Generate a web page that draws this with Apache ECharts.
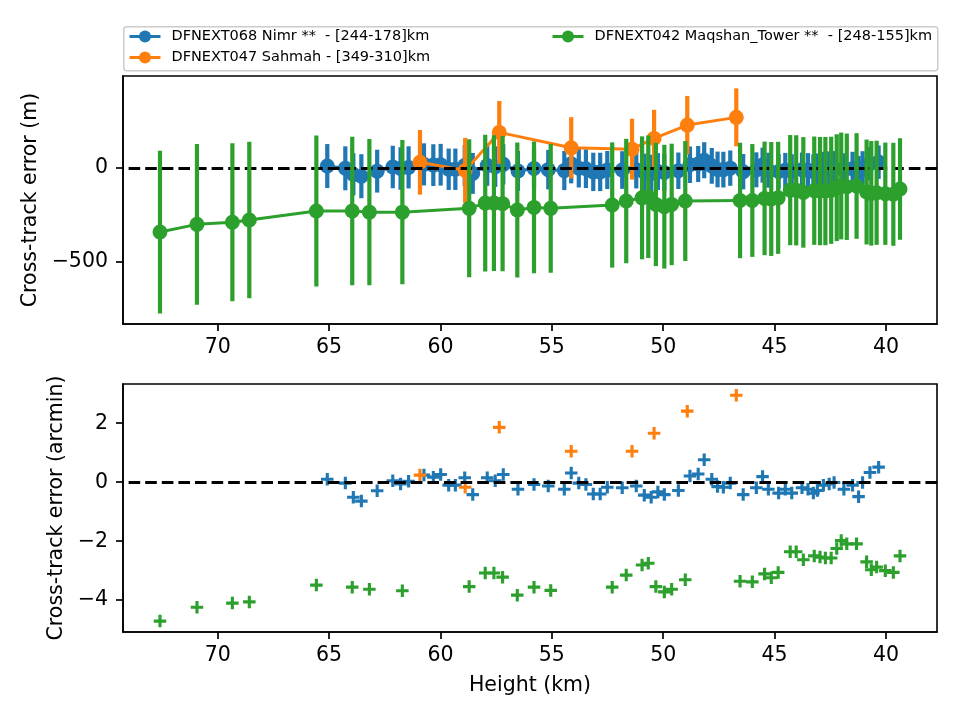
<!DOCTYPE html>
<html>
<head>
<meta charset="utf-8">
<script src="https://cdn.jsdelivr.net/npm/echarts@6/dist/echarts.min.js"></script>
<style>
  html, body { margin: 0; padding: 0; background: #fff; }
  #main { width: 960px; height: 720px; }
</style>
</head>
<body>
<div id="main"></div>
<script>
// series names
var nimrName = 'DFNEXT068 Nimr **  - [244-178]km';
var sahmahName = 'DFNEXT047 Sahmah - [349-310]km';
var maqName = 'DFNEXT042 Maqshan_Tower **  - [248-155]km';

// DFNEXT068 Nimr (blue)
var nimrHeight = [65.08, 64.27, 63.91, 63.55, 62.84, 62.14, 61.79, 61.43, 60.74, 60.32, 59.99, 59.63, 59.33, 58.91, 58.55,
    57.90, 57.54, 57.18, 56.52, 55.80, 55.16, 54.44, 54.13, 53.79, 53.47, 53.14, 52.83, 52.51, 51.84, 51.21, 50.85,
    50.54, 50.24, 49.95, 49.32, 48.80, 48.43, 48.16, 47.82, 47.56, 47.30, 46.99, 46.41, 45.82, 45.54, 45.28, 44.82,
    44.52, 44.23, 43.77, 43.50, 43.26, 43.08, 42.81, 42.55, 42.33, 41.89, 41.50, 41.23, 41.05, 40.72, 40.33];
var nimrErrM = [9, -3, -35, -45, -18, 4, -4, 2, 18, 14, 16, -8, -8, 12, -30,
    12, 6, 18, -17, -4, -10, -15, 21, -2, -5, -22, -22, -12, -12, -10, -24,
    -30, -20, -25, -16, 16, 20, 40, 10, -9, -10, -2, -21, -11, 14, -13, -20,
    -13, -20, -10, -13, -20, -15, -5, -3, -1, -13, -5, -26, -1, 22, 30];
var nimrSigma = [117, 117, 112, 117, 114, 113, 113, 112, 112, 111, 111, 110, 110, 109, 109,
    108, 108, 107, 106, 105, 105, 104, 104, 103, 103, 102, 102, 101, 100, 100, 99,
    99, 98, 98, 97, 97, 96, 96, 95, 95, 95, 94, 94, 93, 93, 93, 92,
    92, 92, 91, 91, 91, 91, 90, 90, 90, 90, 90, 89, 89, 89, 89];
var nimrErrArcmin = [0.10, -0.03, -0.51, -0.64, -0.29, 0.05, -0.06, 0.03, 0.24, 0.17, 0.26, -0.10, -0.10, 0.15, -0.42,
    0.15, 0.05, 0.26, -0.24, -0.08, -0.13, -0.24, 0.31, -0.03, -0.08, -0.40, -0.40, -0.17, -0.19, -0.13, -0.44,
    -0.51, -0.33, -0.42, -0.28, 0.21, 0.28, 0.76, 0.10, -0.15, -0.17, -0.03, -0.42, -0.19, 0.19, -0.24, -0.37,
    -0.24, -0.37, -0.19, -0.24, -0.37, -0.28, -0.10, -0.06, -0.01, -0.24, -0.10, -0.49, -0.01, 0.33, 0.51];

// DFNEXT047 Sahmah (orange)
var sahmahHeight = [60.92, 58.89, 57.36, 54.13, 51.40, 50.41, 48.92, 46.72];
var sahmahErrM = [29, -14, 188, 106, 99, 156, 227, 268];
var sahmahSigma = [172, 173, 167, 163, 162, 152, 155, 154];
var sahmahErrArcmin = [0.24, -0.17, 1.86, 1.05, 1.05, 1.66, 2.41, 2.95];

// DFNEXT042 Maqshan_Tower (green)
var maqHeight = [72.59, 70.93, 69.34, 68.58, 65.57, 63.96, 63.19, 61.71, 58.71, 57.99, 57.60, 57.21, 56.55, 55.80, 55.05,
    52.29, 51.66, 50.95, 50.67, 50.33, 49.95, 49.62, 49.01, 46.55, 46.00, 45.45, 45.15, 44.84, 44.30, 44.03,
    43.71, 43.22, 42.96, 42.72, 42.46, 42.21, 42.01, 41.76, 41.32, 40.87, 40.66, 40.42, 40.03, 39.67, 39.37];
var maqErrM = [-342, -301, -290, -278, -230, -230, -236, -236, -216, -188, -188, -191, -225, -211, -216,
    -198, -177, -160, -154, -195, -207, -195, -177, -174, -174, -163, -166, -160, -119, -120,
    -131, -122, -124, -124, -120, -106, -97, -101, -97, -129, -136, -133, -138, -141, -113];
var maqSigma = [433, 427, 420, 416, 402, 395, 389, 383, 367, 364, 361, 360, 359, 350, 343,
    333, 331, 327, 326, 328, 329, 323, 319, 307, 300, 302, 303, 298, 293, 293,
    294, 288, 288, 288, 285, 284, 284, 283, 281, 279, 278, 277, 272, 274, 270];
var maqErrArcmin = [-4.71, -4.24, -4.10, -4.06, -3.49, -3.56, -3.63, -3.68, -3.54, -3.08, -3.08, -3.22, -3.83, -3.56, -3.67,
    -3.56, -3.15, -2.81, -2.75, -3.54, -3.72, -3.63, -3.31, -3.36, -3.38, -3.11, -3.24, -3.06, -2.36, -2.36,
    -2.63, -2.50, -2.54, -2.57, -2.57, -2.25, -1.98, -2.09, -2.09, -2.70, -2.97, -2.88, -3.00, -3.06, -2.50];

// ticks
var xTicks = [70, 65, 60, 55, 50, 45, 40];
var topYTicks = [-500, 0];
var bottomYTicks = [-4, -2, 0, 2];

var colors = ['#1f77b4', '#ff7f0e', '#2ca02c'];
var FONT = 'DejaVu Sans';
var AXIS_FS = 20.5;
var plusPath = 'path://M3.75,0H6.25V3.75H10V6.25H6.25V10H3.75V6.25H0V3.75H3.75Z';

function minusFmt(v) {
    return v < 0 ? '\u2212' + Math.abs(v) : String(v);
}

function pairs(xs, ys) {
    return xs.map(function (x, i) { return [x, ys[i]]; });
}

function errData(xs, ys, es) {
    return xs.map(function (x, i) { return [x, ys[i] - es[i], ys[i] + es[i]]; });
}

function errSeries(name, xs, ys, es, color, z) {
    return {
        name: name,
        type: 'custom',
        xAxisIndex: 0,
        yAxisIndex: 0,
        z: z,
        silent: true,
        data: errData(xs, ys, es),
        renderItem: function (params, api) {
            var p1 = api.coord([api.value(0), api.value(1)]);
            var p2 = api.coord([api.value(0), api.value(2)]);
            return {
                type: 'line',
                shape: { x1: p1[0], y1: p1[1], x2: p2[0], y2: p2[1] },
                style: { stroke: color, lineWidth: 4.2 }
            };
        }
    };
}

function lineSeries(name, xs, ys, color, z) {
    return {
        name: name,
        type: 'line',
        xAxisIndex: 0,
        yAxisIndex: 0,
        z: z,
        data: pairs(xs, ys),
        symbol: 'circle',
        symbolSize: 15,
        showSymbol: true,
        showAllSymbol: true,
        lineStyle: { color: color, width: 3 },
        itemStyle: { color: color }
    };
}

function plusSeries(name, xs, ys, color, z) {
    return {
        name: name,
        type: 'scatter',
        xAxisIndex: 1,
        yAxisIndex: 1,
        z: z,
        data: pairs(xs, ys),
        symbol: plusPath,
        symbolSize: 12.5,
        itemStyle: { color: color, opacity: 1 }
    };
}

var zeroLine = {
    silent: true,
    symbol: 'none',
    label: { show: false },
    animation: false,
    lineStyle: { color: '#000', type: [11.6, 5], width: 3.1 },
    data: [{ yAxis: 0 }]
};

var axisLineCfg = { show: true, onZero: false, lineStyle: { color: '#000', width: 1.6 } };
var tickCfgBase = { show: true, inside: false, length: 7, lineStyle: { color: '#000', width: 1.7 } };

function xAxisCfg(gridIndex, withName) {
    var ax = {
        type: 'value',
        gridIndex: gridIndex,
        position: 'bottom',
        min: 37.71,
        max: 74.25,
        inverse: true,
        axisLine: axisLineCfg,
        axisTick: Object.assign({ customValues: xTicks }, tickCfgBase),
        axisLabel: { customValues: xTicks, formatter: minusFmt, color: '#000', fontSize: AXIS_FS, fontFamily: FONT, margin: 13 },
        splitLine: { show: false }
    };
    if (withName) {
        ax.name = 'Height (km)';
        ax.nameLocation = 'middle';
        ax.nameGap = 43;
        ax.nameTextStyle = { color: '#000', fontSize: AXIS_FS, fontFamily: FONT };
    }
    return ax;
}

function yAxisCfg(gridIndex, min, max, ticks, name, gap) {
    return {
        type: 'value',
        gridIndex: gridIndex,
        position: 'left',
        min: min,
        max: max,
        axisLine: axisLineCfg,
        axisTick: Object.assign({ customValues: ticks }, tickCfgBase),
        axisLabel: { customValues: ticks, formatter: minusFmt, color: '#000', fontSize: AXIS_FS, fontFamily: FONT, margin: 15 },
        splitLine: { show: false },
        name: name,
        nameLocation: 'middle',
        nameGap: gap,
        nameTextStyle: { color: '#000', fontSize: AXIS_FS, fontFamily: FONT }
    };
}

var chart = echarts.init(document.getElementById('main'), null, { renderer: 'canvas' });

var legendText = { color: '#000', fontSize: 14.5, fontFamily: FONT, padding: [0, 0, 0, 6] };

var series = [];
var zeroCarrier = errSeries(nimrName, nimrHeight, nimrErrM, nimrSigma, colors[0], 1);
zeroCarrier.markLine = zeroLine;
series.push(lineSeries(nimrName, nimrHeight, nimrErrM, colors[0], 2));
series.push(lineSeries(sahmahName, sahmahHeight, sahmahErrM, colors[1], 4));
series.push(lineSeries(maqName, maqHeight, maqErrM, colors[2], 6));
series.push(zeroCarrier);
series.push(errSeries(sahmahName, sahmahHeight, sahmahErrM, sahmahSigma, colors[1], 3));
series.push(errSeries(maqName, maqHeight, maqErrM, maqSigma, colors[2], 5));

var zeroCarrier2 = plusSeries(nimrName, nimrHeight, nimrErrArcmin, colors[0], 2);
zeroCarrier2.markLine = zeroLine;
series.push(zeroCarrier2);
series.push(plusSeries(sahmahName, sahmahHeight, sahmahErrArcmin, colors[1], 4));
series.push(plusSeries(maqName, maqHeight, maqErrArcmin, colors[2], 6));

var option = {
    animation: false,
    backgroundColor: '#fff',
    textStyle: { fontFamily: FONT },
    graphic: [{
        type: 'rect',
        left: 123,
        top: 26,
        z: -1,
        shape: { width: 814, height: 44, r: 3 },
        style: { fill: 'rgba(255,255,255,0.8)', stroke: '#cccccc', lineWidth: 1.5 }
    }],
    legend: [{
        data: [nimrName, sahmahName],
        orient: 'vertical',
        left: 128,
        top: 29,
        itemWidth: 31,
        itemHeight: 15,
        itemGap: 6,
        padding: 0,
        lineStyle: { width: 3 },
        textStyle: legendText
    }, {
        data: [maqName],
        orient: 'vertical',
        left: 551,
        top: 29,
        itemWidth: 31,
        itemHeight: 15,
        padding: 0,
        lineStyle: { width: 3 },
        textStyle: legendText
    }],
    grid: [
        { left: 123, top: 76, width: 814, height: 248, show: true, borderColor: '#000', borderWidth: 1.6, backgroundColor: 'transparent' },
        { left: 123, top: 384, width: 814, height: 248, show: true, borderColor: '#000', borderWidth: 1.6, backgroundColor: 'transparent' }
    ],
    xAxis: [xAxisCfg(0, false), xAxisCfg(1, true)],
    yAxis: [
        yAxisCfg(0, -831, 488, topYTicks, 'Cross-track error (m)', 80),
        yAxisCfg(1, -5.08, 3.33, bottomYTicks, 'Cross-track error (arcmin)', 54)
    ],
    series: series
};

chart.setOption(option);
</script>
</body>
</html>
